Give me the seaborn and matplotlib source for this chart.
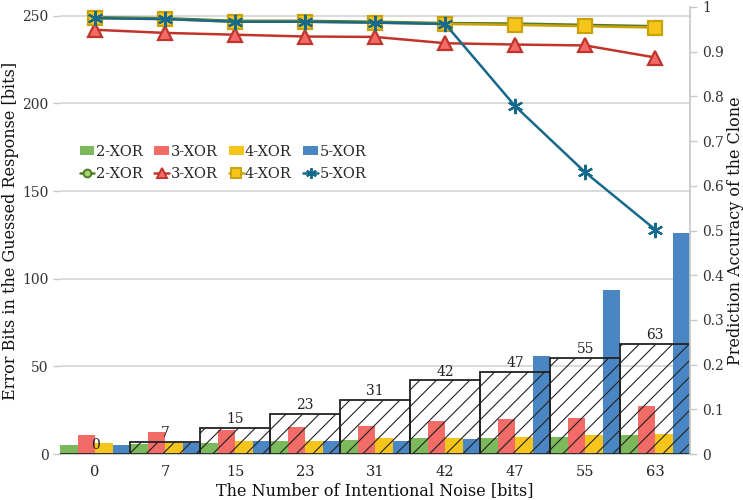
import numpy as np
import pandas as pd
import matplotlib
matplotlib.use("Agg")
import matplotlib.pyplot as plt
from matplotlib.lines import Line2D
from matplotlib.patches import Patch
import seaborn as sns

# categories (noise bits) and series
noise = ["0", "7", "15", "23", "31", "42", "47", "55", "63"]
noise_bits = [0, 7, 15, 23, 31, 42, 47, 55, 63]
groups = ["2-XOR", "3-XOR", "4-XOR", "5-XOR"]

# error bits (left axis, bars)
err_2xor = [5.1, 5.5, 6.5, 7.2, 8.2, 8.9, 8.9, 9.9, 11.0]
err_3xor = [10.9, 12.3, 13.7, 15.6, 16.2, 19.0, 20.2, 20.6, 27.3]
err_4xor = [6.1, 6.3, 7.6, 7.6, 9.3, 9.3, 9.7, 10.7, 11.4]
err_5xor = [5.3, 6.3, 7.6, 7.2, 7.6, 8.4, 55.7, 93.6, 126.2]

# prediction accuracy (right axis, lines)
acc_2xor = [0.977, 0.975, 0.969, 0.969, 0.967, 0.964, 0.963, 0.960, 0.957]
acc_3xor = [0.949, 0.942, 0.938, 0.934, 0.933, 0.919, 0.916, 0.914, 0.887]
acc_4xor = [0.975, 0.973, 0.967, 0.967, 0.965, 0.962, 0.960, 0.957, 0.954]
acc_5xor = [0.975, 0.973, 0.967, 0.967, 0.965, 0.962, 0.778, 0.630, 0.502]

bar_colors = {"2-XOR": "#7cb95a", "3-XOR": "#f26b67", "4-XOR": "#f6c51b", "5-XOR": "#4a86c4"}
line_styles = {
    "2-XOR": dict(color="#4f7a28", marker="o", markerfacecolor="#a5d46a", markeredgecolor="#4f7a28", markersize=8),
    "3-XOR": dict(color="#c0342b", marker="^", markerfacecolor="#f26b67", markeredgecolor="#c0342b", markersize=10),
    "4-XOR": dict(color="#c9a20a", marker="s", markerfacecolor="#f6c51b", markeredgecolor="#c9a20a", markersize=10),
    "5-XOR": dict(color="#17698c", marker=(6, 2, 0), markerfacecolor="#17698c", markeredgecolor="#17698c", markersize=11),
}

sns.set_theme(style="white")
plt.rcParams["font.family"] = ["DejaVu Serif"]
plt.rcParams["hatch.linewidth"] = 0.8

df = pd.DataFrame({
    "noise": noise * 4,
    "group": np.repeat(groups, len(noise)),
    "err": err_2xor + err_3xor + err_4xor + err_5xor,
})

fig = plt.figure(figsize=(7.43, 5.0), dpi=100)
ax = fig.add_axes([0.081, 0.092, 0.848, 0.894])

sns.barplot(data=df, x="noise", y="err", hue="group", order=noise, hue_order=groups,
            palette=bar_colors, width=1, gap=0, saturation=1, linewidth=0,
            legend=False, ax=ax, zorder=2)

# hatched boxes showing the amount of intentional noise
pos = np.arange(len(noise))
ax.bar(pos, noise_bits, width=1, fill=False, hatch="//", edgecolor="#222222",
       linewidth=1.3, zorder=3)
for x, v in zip(pos, noise_bits):
    ax.text(x, v + 1.0, str(v), ha="center", va="bottom", fontsize=10, color="#222222", zorder=4)

ax.set_xlim(-0.5, len(noise) - 0.5)
ax.set_ylim(0, 255)
ax.set_yticks(range(0, 251, 50))
ax.yaxis.grid(True, color="#d4d4d4", linewidth=1.2)
ax.set_axisbelow(True)
ax.set_xticks(pos)
ax.set_xticklabels(noise)
ax.set_xticks(np.arange(-0.5, len(noise)), minor=True)
ax.tick_params(axis="x", which="major", length=0, labelsize=10.5, pad=8, colors="#222222")
ax.tick_params(axis="x", which="minor", length=4, color="#c8c8c8", width=1, direction="out")
ax.tick_params(axis="y", length=5, color="#c8c8c8", width=1, labelsize=10, colors="#333333", left=True)
for s in ["top", "right", "left"]:
    ax.spines[s].set_visible(False)
ax.spines["bottom"].set_color("#c8c8c8")
ax.set_xlabel("The Number of Intentional Noise [bits]", fontsize=11.5, labelpad=2, color="#111111")
ax.set_ylabel("Error Bits in the Guessed Response [bits]", fontsize=11.5, labelpad=2, color="#111111")

ax2 = ax.twinx()
acc = {"2-XOR": acc_2xor, "3-XOR": acc_3xor, "4-XOR": acc_4xor, "5-XOR": acc_5xor}
for g in ["3-XOR", "2-XOR", "4-XOR", "5-XOR"]:
    st = line_styles[g]
    sns.lineplot(x=pos, y=acc[g], ax=ax2, linewidth=1.8, markeredgewidth=1.6, **st)
ax2.set_ylim(0, 1.0)
ax2.set_yticks(np.arange(0, 1.01, 0.1))
ax2.set_yticklabels(["0"] + [f"{t:.1f}" for t in np.arange(0.1, 0.95, 0.1)] + ["1"])
ax2.tick_params(axis="y", length=5, color="#c8c8c8", width=1, labelsize=10, colors="#333333", right=True)
for s in ["top", "left", "bottom"]:
    ax2.spines[s].set_visible(False)
ax2.spines["right"].set_color("#c8c8c8")
ax2.set_ylabel("Prediction Accuracy of the Clone", fontsize=11.5, labelpad=2, color="#111111")
ax2.set_xlabel("")

handles, labels = [], []
for g in groups:
    handles.append(Patch(facecolor=bar_colors[g], edgecolor="none"))
    labels.append(g)
    st = dict(line_styles[g])
    st["markersize"] = st["markersize"] * 0.7
    handles.append(Line2D([], [], linewidth=1.8, markeredgewidth=1.4, **st))
    labels.append(g)
ax2.legend(handles, labels, ncol=4, loc="upper left", bbox_to_anchor=(0.022, 0.705),
           frameon=False, fontsize=10.5, handlelength=1.0, handleheight=0.6,
           handletextpad=0.1, columnspacing=0.8, labelspacing=0.55, borderaxespad=0)

fig.savefig("out.png", dpi=100)
